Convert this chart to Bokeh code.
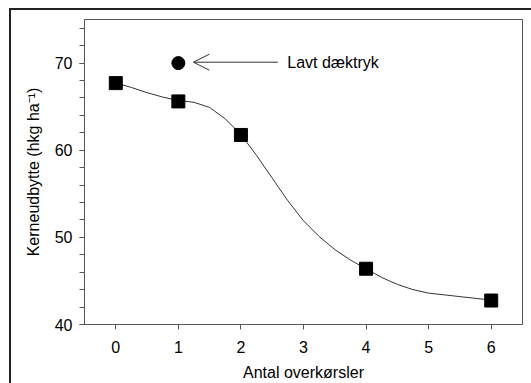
from bokeh.plotting import figure
from bokeh.models import FixedTicker, Arrow, OpenHead, Label, Range1d, InlineStyleSheet
from bokeh.embed import file_html
from bokeh.resources import INLINE

# Data
passes = [0, 1, 2, 4, 6]
yield_vals = [67.7, 65.6, 61.75, 46.4, 42.75]
low_pressure_x = [1]
low_pressure_y = [70.0]

curve_x = [0, 0.25, 0.5, 0.75, 1, 1.25, 1.5, 1.75, 2, 2.25, 2.5, 2.75, 3,
           3.25, 3.5, 3.75, 4, 4.25, 4.5, 4.75, 5, 5.25, 5.5, 5.75, 6]
curve_y = [67.7, 67.2, 66.6, 66.1, 65.7, 65.5, 64.9, 63.6, 61.8, 59.4, 56.8, 54.2, 51.9,
           50.1, 48.6, 47.4, 46.4, 45.4, 44.6, 44.0, 43.6, 43.4, 43.2, 43.0, 42.8]

x_ticks = [0, 1, 2, 3, 4, 5, 6]
y_major = [40, 50, 60, 70]
y_minor = list(range(40, 76, 2))

FONT = "Liberation Sans"

p = figure(width=531, height=383, output_backend="svg", toolbar_location=None,
           x_range=Range1d(-0.5, 6.5), y_range=Range1d(40, 75),
           min_border_left=84, min_border_top=19, min_border_right=9, min_border_bottom=59)
# outer frame of the whole picture: only its top and left edges lie inside the window
p.border_fill_color = None
p.stylesheets = [InlineStyleSheet(css=(
    ":host { background: "
    "linear-gradient(#222222, #222222) 9px 8px / 2px 100% no-repeat, "
    "linear-gradient(#222222, #222222) 9px 8px / 100% 2px no-repeat, white; }"
))]

p.xgrid.visible = False
p.ygrid.visible = False
p.outline_line_color = "#555555"
p.outline_line_width = 1
p.background_fill_color = "white"

p.line(curve_x, curve_y, line_color="#333333", line_width=1)
p.scatter(passes, yield_vals, marker="square", size=13, fill_color="black", line_color="black")
p.scatter(low_pressure_x, low_pressure_y, marker="circle", size=13, fill_color="black", line_color="black")

p.add_layout(Arrow(end=OpenHead(size=16, line_color="#333333", line_width=1),
                   x_start=2.59, y_start=70.1, x_end=1.24, y_end=70.1,
                   line_color="#333333", line_width=1))
p.add_layout(Label(x=2.74, y=70.1, text="Lavt dæktryk", text_font=FONT, text_font_size="16px",
                   text_baseline="middle", text_color="black"))

p.xaxis.ticker = FixedTicker(ticks=x_ticks)
p.yaxis.ticker = FixedTicker(ticks=y_major, minor_ticks=y_minor)

for ax in (p.xaxis[0], p.yaxis[0]):
    ax.axis_line_color = "#555555"
    ax.major_tick_line_color = "#555555"
    ax.minor_tick_line_color = "#555555"
    ax.major_tick_in = 0
    ax.major_tick_out = 5
    ax.minor_tick_in = 0
    ax.minor_tick_out = 5
    ax.major_label_text_font = FONT
    ax.major_label_text_font_size = "16px"
    ax.major_label_text_color = "black"
    ax.axis_label_text_font = FONT
    ax.axis_label_text_font_size = "16px"
    ax.axis_label_text_font_style = "normal"
    ax.axis_label_text_color = "black"

p.xaxis.minor_tick_line_color = None
p.xaxis.axis_label = "Antal overkørsler"
p.yaxis.axis_label = "Kerneudbytte (hkg ha⁻¹)"
p.xaxis.major_label_standoff = 11
p.xaxis.axis_label_standoff = 8
p.yaxis.major_label_standoff = 7
p.yaxis.axis_label_standoff = 10

open("out.html", "w").write(file_html(p, INLINE))
